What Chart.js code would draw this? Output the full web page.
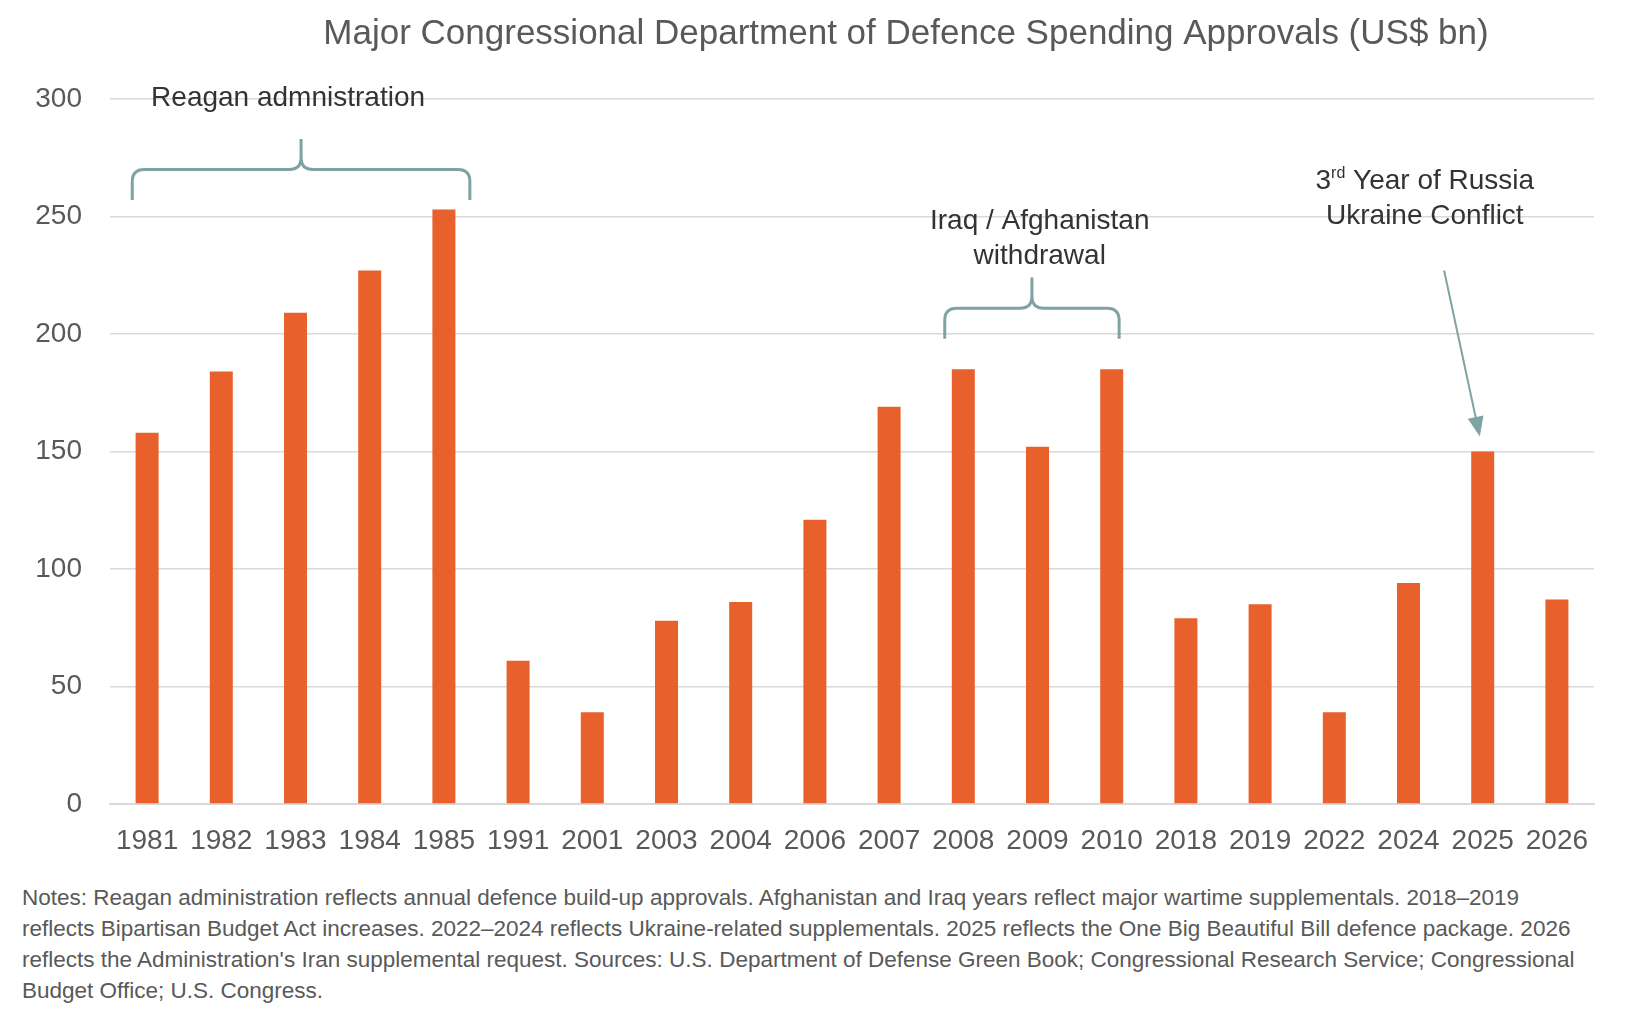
<!DOCTYPE html>
<html><head><meta charset="utf-8">
<script src="https://cdn.jsdelivr.net/npm/chart.js@4"></script>
<style>
body{margin:0;background:#fff;font-family:"Liberation Sans",Arial,sans-serif;}
#wrap{position:relative;width:1642px;height:870px;}
#notes{position:absolute;left:22px;top:882px;width:1570px;font-size:22.5px;line-height:31px;color:#595959;}
</style></head><body>
<div id="wrap"><canvas id="c" width="1642" height="870"></canvas></div>
<div id="notes">Notes: Reagan administration reflects annual defence build-up approvals. Afghanistan and Iraq years reflect major wartime supplementals. 2018–2019 reflects Bipartisan Budget Act increases. 2022–2024 reflects Ukraine-related supplementals. 2025 reflects the One Big Beautiful Bill defence package. 2026 reflects the Administration's Iran supplemental request. Sources: U.S. Department of Defense Green Book; Congressional Research Service; Congressional Budget Office; U.S. Congress.</div>
<script>
const years = ["1981","1982","1983","1984","1985","1991","2001","2003","2004","2006","2007","2008","2009","2010","2018","2019","2022","2024","2025","2026"];
const spending = [158,184,209,227,253,61,39,78,86,121,169,185,152,185,79,85,39,94,150,87];
const yTicks = [0,50,100,150,200,250,300];
const TEAL = "#7fa3a3", GREY="#595959";
const FONT = '"Liberation Sans", Arial, sans-serif';

function brace(ctx, x1, x2, yLine, yEnd, yTip){
  const xm=(x1+x2)/2, r=Math.min(12,(yLine-yTip));
  ctx.beginPath();
  ctx.moveTo(x1,yEnd);
  ctx.lineTo(x1,yLine+r);
  ctx.quadraticCurveTo(x1,yLine,x1+r,yLine);
  ctx.lineTo(xm-r,yLine);
  ctx.quadraticCurveTo(xm,yLine,xm,yLine-r);
  ctx.lineTo(xm,yTip);
  ctx.moveTo(xm,yLine-r);
  ctx.quadraticCurveTo(xm,yLine,xm+r,yLine);
  ctx.lineTo(x2-r,yLine);
  ctx.quadraticCurveTo(x2,yLine,x2,yLine+r);
  ctx.lineTo(x2,yEnd);
  ctx.stroke();
}
const annot = {
  id:'annot',
  afterDraw(chart){
    const ctx=chart.ctx, xs=chart.scales.x, ys=chart.scales.y;
    const X=i=>xs.getPixelForValue(0)+(xs.getPixelForValue(1)-xs.getPixelForValue(0))*i;
    const Y=v=>ys.getPixelForValue(v);
    ctx.save();
    ctx.fillStyle=GREY; ctx.font='35px '+FONT; ctx.textAlign='center'; ctx.textBaseline='middle';
    ctx.fillText('Major Congressional Department of Defence Spending Approvals (US$ bn)',906,34);
    ctx.strokeStyle=TEAL; ctx.lineWidth=3;
    brace(ctx,X(-0.2),X(4.35),Y(270),Y(257),Y(283));
    brace(ctx,X(10.75),X(13.1),Y(211),Y(198),Y(224));
    const ax1=X(17.48), ay1=Y(227), ax2=X(17.95), ay2=Y(158);
    ctx.lineWidth=2;
    ctx.beginPath(); ctx.moveTo(ax1,ay1); ctx.lineTo(ax2,ay2); ctx.stroke();
    const ang=Math.atan2(ay2-ay1,ax2-ax1);
    ctx.fillStyle=TEAL; ctx.beginPath();
    ctx.moveTo(ax2+4*Math.cos(ang),ay2+4*Math.sin(ang));
    ctx.lineTo(ax2-16*Math.cos(ang)+8*Math.sin(ang),ay2-16*Math.sin(ang)-8*Math.cos(ang));
    ctx.lineTo(ax2-16*Math.cos(ang)-8*Math.sin(ang),ay2-16*Math.sin(ang)+8*Math.cos(ang));
    ctx.fill();
    ctx.fillStyle='#333'; ctx.font='28px '+FONT;
    ctx.fillText('Reagan admnistration',X(1.9),Y(300.5));
    ctx.fillText('Iraq / Afghanistan',X(12.03),Y(248));
    ctx.fillText('withdrawal',X(12.03),Y(233));
    ctx.fillText('Ukraine Conflict',X(17.22),Y(250));
    const t1='3', sup='rd', t2=' Year of Russia';
    ctx.font='28px '+FONT; const w1=ctx.measureText(t1).width, w3=ctx.measureText(t2).width;
    ctx.font='16px '+FONT; const w2=ctx.measureText(sup).width;
    let sx=X(17.22)-(w1+w2+w3)/2, sy=Y(265);
    ctx.textAlign='left';
    ctx.font='28px '+FONT; ctx.fillText(t1,sx,sy);
    ctx.font='16px '+FONT; ctx.fillText(sup,sx+w1,sy-8);
    ctx.font='28px '+FONT; ctx.fillText(t2,sx+w1+w2,sy);
    ctx.restore();
  }
};
new Chart(document.getElementById('c'),{
  type:'bar',
  data:{labels:years,datasets:[{data:spending,backgroundColor:'#e8602c',barPercentage:0.31,categoryPercentage:1}]},
  options:{
    responsive:false,animation:false,
    layout:{padding:{top:99,right:48,left:0,bottom:0}},
    plugins:{legend:{display:false},tooltip:{enabled:false},title:{display:false}},
    scales:{
      x:{grid:{display:false},border:{color:'#d9d9d9',width:2},
         ticks:{color:GREY,font:{size:28,family:FONT},maxRotation:0,autoSkip:false,padding:12},
         afterFit(s){s.height=66;}},
      y:{min:0,max:300,afterBuildTicks(s){s.ticks=yTicks.map(v=>({value:v}));},
         grid:{color:'#d9d9d9',lineWidth:1.5,drawTicks:false},border:{display:false},
         ticks:{color:GREY,font:{size:28,family:FONT},padding:28},
         afterFit(s){s.width=110;}}
    }
  },
  plugins:[annot]
});
</script></body></html>
